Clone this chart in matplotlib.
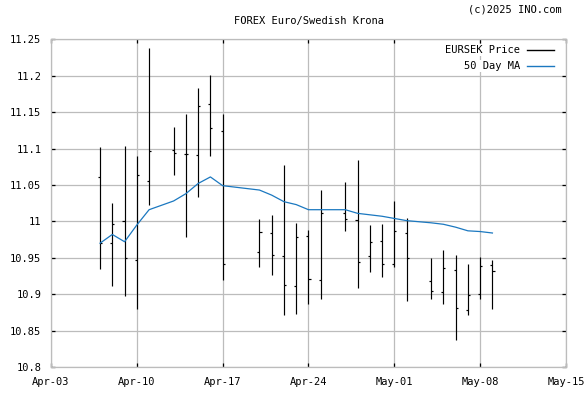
import matplotlib
matplotlib.use("Agg")
import matplotlib.pyplot as plt
import matplotlib.dates as mdates
from matplotlib.ticker import FuncFormatter, MultipleLocator
from matplotlib.lines import Line2D
import numpy as np
import datetime as dt

dates = ["2025-04-07", "2025-04-08", "2025-04-09", "2025-04-10", "2025-04-11",
         "2025-04-13", "2025-04-14", "2025-04-15", "2025-04-16", "2025-04-17",
         "2025-04-20", "2025-04-21", "2025-04-22", "2025-04-23", "2025-04-24", "2025-04-25",
         "2025-04-27", "2025-04-28", "2025-04-29", "2025-04-30", "2025-05-01", "2025-05-02",
         "2025-05-04", "2025-05-05", "2025-05-06", "2025-05-07", "2025-05-08", "2025-05-09"]
opens = [11.061, 10.970, 11.000, 10.947, 11.055,
         11.098, 11.093, 11.091, 11.161, 11.124,
         10.958, 10.984, 10.952, 10.911, 10.980, 10.919,
         11.011, 11.002, 10.952, 10.973, 10.941, 10.984,
         10.918, 10.903, 10.933, 10.878, 10.900, 10.940]
highs = [11.102, 11.025, 11.104, 11.090, 11.238,
         11.130, 11.148, 11.183, 11.201, 11.147,
         11.003, 11.009, 11.078, 10.998, 10.988, 11.043,
         11.054, 11.084, 10.995, 10.997, 11.028, 11.004,
         10.950, 10.961, 10.954, 10.942, 10.951, 10.947]
lows = [10.934, 10.911, 10.898, 10.880, 11.022,
        11.063, 10.979, 11.033, 11.090, 10.920,
        10.938, 10.927, 10.872, 10.873, 10.886, 10.894,
        10.987, 10.908, 10.930, 10.924, 10.938, 10.891,
        10.894, 10.887, 10.837, 10.872, 10.893, 10.879]
closes = [10.970, 10.996, 10.950, 11.063, 11.096,
          11.094, 11.092, 11.159, 11.128, 10.941,
          10.985, 10.954, 10.913, 10.978, 10.921, 11.011,
          11.003, 10.944, 10.971, 10.941, 10.987, 10.950,
          10.904, 10.936, 10.881, 10.899, 10.939, 10.932]
ma50 = [10.970, 10.982, 10.972, 10.995, 11.016,
        11.028, 11.038, 11.052, 11.061, 11.049,
        11.043, 11.036, 11.027, 11.023, 11.016, 11.016,
        11.016, 11.011, 11.009, 11.007, 11.004, 11.001,
        10.998, 10.996, 10.992, 10.987, 10.986, 10.984]

x_start, x_end = "2025-04-03", "2025-05-15"
y_min, y_max, y_step = 10.8, 11.25, 0.05
title = "FOREX Euro/Swedish Krona"
copyright_text = "(c)2025 INO.com"
price_label = "EURSEK Price"
ma_label = "50 Day MA"

FONT = "DejaVu Sans Mono"
FS = 7.5
W, H = 585, 394
plt.rcParams["font.family"] = FONT

fig = plt.figure(figsize=(W / 100, H / 100), dpi=100)
L, R, T, B = 51, 566, 39.3, 367
ax = fig.add_axes([L / W, 1 - B / H, (R - L) / W, (B - T) / H])

xd = mdates.date2num([dt.datetime.strptime(d, "%Y-%m-%d") for d in dates])
tick_len = 0.17  # days (~2 px)

lw = 0.85
ax.vlines(xd, lows, highs, color="black", lw=lw, zorder=3)
ax.hlines(opens, xd - tick_len, xd, color="black", lw=lw, zorder=3)
ax.hlines(closes, xd, xd + tick_len, color="black", lw=lw, zorder=3)
ax.plot(xd, ma50, color="#1b78c0", lw=0.9, zorder=4)

x0 = mdates.date2num(dt.datetime.strptime(x_start, "%Y-%m-%d"))
x1 = mdates.date2num(dt.datetime.strptime(x_end, "%Y-%m-%d"))
ax.set_xlim(x0, x1)
ax.set_ylim(y_min, y_max)
ax.xaxis.set_major_locator(mdates.DayLocator(bymonthday=[3, 10, 17, 24, 1, 8, 15]))
ax.set_xticks(np.arange(x0, x1 + 0.1, 7))
ax.xaxis.set_major_formatter(mdates.DateFormatter("%b-%d"))
ax.yaxis.set_major_locator(MultipleLocator(y_step))
ax.yaxis.set_major_formatter(FuncFormatter(lambda v, p: f"{v:.2f}".rstrip("0").rstrip(".")))

ax.grid(True, color="#bcbcbc", lw=0.9, zorder=0)
for s in ax.spines.values():
    s.set_color("#bcbcbc")
    s.set_linewidth(0.9)
ax.tick_params(which="both", direction="in", length=3, width=0.9, color="black",
               top=True, right=True, labelsize=FS, pad=7)
for lab in ax.get_xticklabels() + ax.get_yticklabels():
    lab.set_fontfamily(FONT)

fig.text((L + R) / 2 / W, 1 - 21 / H, title, ha="center", va="center", fontsize=FS)
fig.text(562 / W, 1 - 10 / H, copyright_text, ha="right", va="center", fontsize=FS)

# legend
rows = [(price_label, "black", 50), (ma_label, "#1b78c0", 66)]
for lab, col, yp in rows:
    fig.text(520 / W, 1 - yp / H, lab, ha="right", va="center", fontsize=FS,
             bbox=dict(facecolor="white", edgecolor="none", pad=0.5), zorder=5)
    fig.add_artist(Line2D([527 / W, 554 / W], [1 - yp / H, 1 - yp / H], color=col, lw=1.0))

fig.savefig("out.png", dpi=100)
